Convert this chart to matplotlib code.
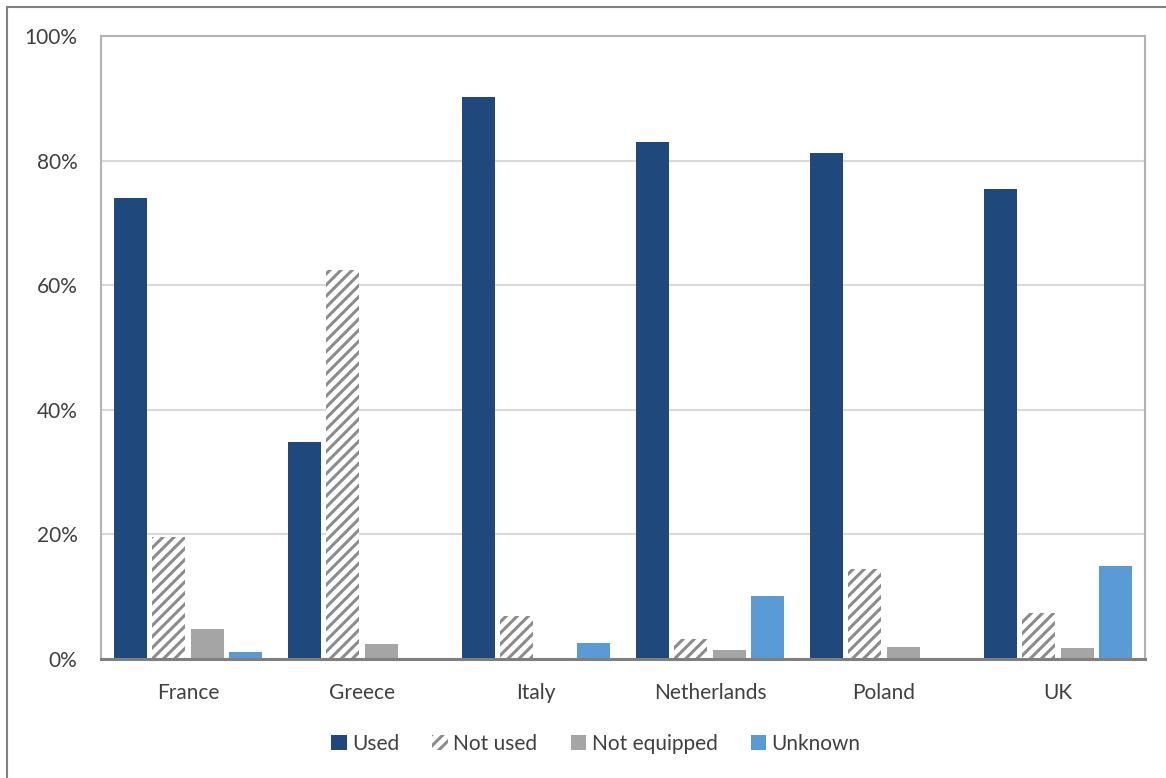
import matplotlib
matplotlib.use("Agg")
import matplotlib.pyplot as plt
import numpy as np
from matplotlib.patches import Rectangle
from matplotlib.ticker import PercentFormatter

# ── Data (percent of respondents) ─────────────────────────────────────────────
countries = ["France", "Greece", "Italy", "Netherlands", "Poland", "UK"]
used = [74.0, 34.8, 90.2, 83.0, 81.2, 75.4]
not_used = [19.6, 62.4, 6.9, 3.2, 14.4, 7.4]
not_equipped = [4.8, 2.4, 0.0, 1.5, 1.9, 1.7]
unknown = [1.1, 0.0, 2.6, 10.1, 0.0, 15.0]

series_labels = ["Used", "Not used", "Not equipped", "Unknown"]

plt.rcParams["font.family"] = ["Lato", "DejaVu Sans"]
plt.rcParams["hatch.linewidth"] = 2.2
plt.rcParams["hatch.color"] = "#8c8c8c"

TEXT = "#404040"

fig = plt.figure(figsize=(11.66, 7.78), dpi=100)
ax = fig.add_axes([101 / 1166, 1 - 659 / 778, (1145 - 101) / 1166, (659 - 36) / 778])

# outer chart frame (cut off at right and bottom like the reference)
fig.patches.append(Rectangle((7 / 1166, -0.05), 1.2, 1 - 7 / 778 + 0.05,
                             transform=fig.transFigure, fill=False,
                             edgecolor="#808080", linewidth=1.5, zorder=0))

x = np.arange(len(countries))
pitch = 0.221
width = 0.19
offsets = (np.arange(4) - 1.5) * pitch

ax.bar(x + offsets[0], used, width, color="#1f497d", label=series_labels[0], zorder=3)
ax.bar(x + offsets[1], not_used, width, color="white", hatch="///",
       edgecolor="#8c8c8c", linewidth=0, label=series_labels[1], zorder=3)
ax.bar(x + offsets[2], not_equipped, width, color="#a5a5a5", label=series_labels[2], zorder=3)
ax.bar(x + offsets[3], unknown, width, color="#5b9bd5", label=series_labels[3], zorder=3)

ax.set_xlim(-0.5, len(countries) - 0.5)
ax.set_ylim(0, 100)
ax.set_yticks(np.arange(0, 101, 20))
ax.yaxis.set_major_formatter(PercentFormatter(decimals=0))
ax.set_xticks(x)
ax.set_xticklabels(countries)
ax.tick_params(axis="both", length=0, labelsize=15, labelcolor=TEXT)
ax.tick_params(axis="y", pad=17)
ax.tick_params(axis="x", pad=17)

ax.grid(axis="y", color="#d9d9d9", linewidth=1.5, zorder=0)
ax.set_axisbelow(True)
for side in ["left", "top", "right"]:
    ax.spines[side].set_color("#b3b3b3")
    ax.spines[side].set_linewidth(1.5)
ax.spines["bottom"].set_color("#7f7f7f")
ax.spines["bottom"].set_linewidth(2.2)
ax.spines["bottom"].set_zorder(4)

fig.legend(loc="center", bbox_to_anchor=(0.511, 1 - 744 / 778), ncol=4,
           frameon=False, fontsize=15, labelcolor=TEXT, handlelength=0.75,
           handleheight=0.75, handletextpad=0.25, columnspacing=1.6)

fig.savefig("out.png", dpi=100)
